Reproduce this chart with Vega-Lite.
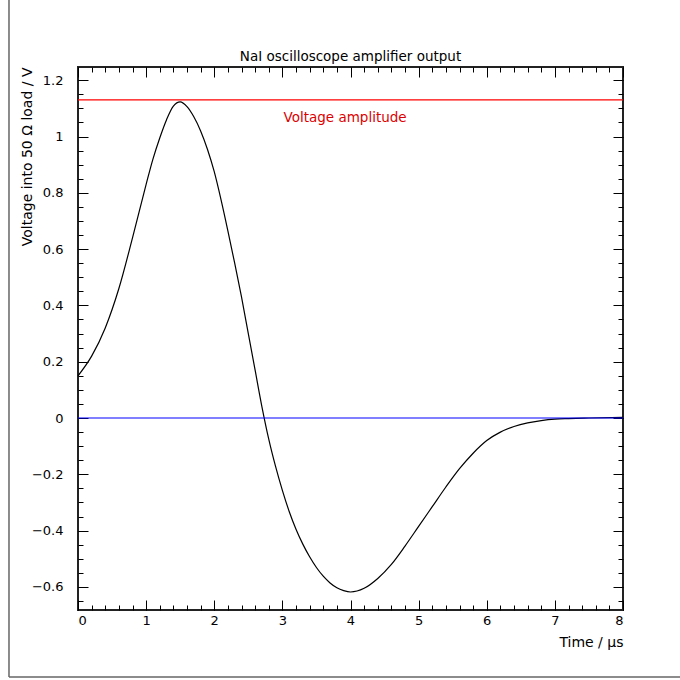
{
  "$schema": "https://vega.github.io/schema/vega-lite/v6.json",
  "width": 545,
  "height": 543,
  "autosize": "none",
  "padding": {"left": 78, "top": 67, "right": 57, "bottom": 70},
  "background": "white",
  "config": {
    "font": "DejaVu Sans",
    "view": {"stroke": "#222", "strokeWidth": 2},
    "axis": {
      "grid": false,
      "domain": false,
      "tickColor": "#000",
      "tickWidth": 1,
      "labelColor": "#000",
      "labelFont": "DejaVu Sans",
      "labelFontSize": 13,
      "titleColor": "#000",
      "titleFont": "DejaVu Sans",
      "titleFontSize": 14,
      "titleFontWeight": "normal",
      "format": "~g"
    }
  },
  "title": {"text": "NaI oscilloscope amplifier output", "font": "DejaVu Sans", "fontSize": 13.5, "fontWeight": "normal", "color": "#000", "offset": -64, "anchor": "middle"},
  "datasets": {
    "pulse": [
      {"t": 0, "v": 0.15}, {"t": 0.2, "v": 0.22}, {"t": 0.4, "v": 0.32}, {"t": 0.6, "v": 0.46},
      {"t": 0.8, "v": 0.64}, {"t": 1.0, "v": 0.83}, {"t": 1.1, "v": 0.92}, {"t": 1.2, "v": 0.995},
      {"t": 1.3, "v": 1.06}, {"t": 1.4, "v": 1.108}, {"t": 1.5, "v": 1.123}, {"t": 1.6, "v": 1.106},
      {"t": 1.7, "v": 1.07}, {"t": 1.8, "v": 1.02}, {"t": 1.9, "v": 0.955}, {"t": 2.0, "v": 0.875},
      {"t": 2.1, "v": 0.775}, {"t": 2.2, "v": 0.665}, {"t": 2.3, "v": 0.55}, {"t": 2.4, "v": 0.43},
      {"t": 2.5, "v": 0.3}, {"t": 2.6, "v": 0.17}, {"t": 2.7, "v": 0.04}, {"t": 2.8, "v": -0.075},
      {"t": 2.9, "v": -0.172}, {"t": 3.0, "v": -0.257}, {"t": 3.1, "v": -0.332}, {"t": 3.2, "v": -0.395},
      {"t": 3.3, "v": -0.448}, {"t": 3.4, "v": -0.493}, {"t": 3.5, "v": -0.531}, {"t": 3.6, "v": -0.562},
      {"t": 3.7, "v": -0.586}, {"t": 3.8, "v": -0.603}, {"t": 3.9, "v": -0.613}, {"t": 4.0, "v": -0.618},
      {"t": 4.2, "v": -0.605}, {"t": 4.4, "v": -0.57}, {"t": 4.6, "v": -0.52}, {"t": 4.8, "v": -0.455},
      {"t": 5.0, "v": -0.385}, {"t": 5.2, "v": -0.315}, {"t": 5.4, "v": -0.245}, {"t": 5.6, "v": -0.18},
      {"t": 5.8, "v": -0.125}, {"t": 6.0, "v": -0.08}, {"t": 6.2, "v": -0.05}, {"t": 6.4, "v": -0.03},
      {"t": 6.6, "v": -0.017}, {"t": 6.8, "v": -0.009}, {"t": 7.0, "v": -0.004}, {"t": 7.2, "v": -0.002},
      {"t": 7.5, "v": 0.0}, {"t": 8.0, "v": 0.002}
    ],
    "frame": [
      {"x1": -1.013, "x2": -1.013, "y1": 1.485, "y2": -0.92},
      {"x1": -1.013, "x2": 8.84, "y1": -0.92, "y2": -0.92}
    ],
    "one": [{"k": 1}]
  },
  "layer": [
    {
      "data": {"name": "pulse"},
      "mark": {"type": "line", "color": "#000", "strokeWidth": 1.2, "interpolate": "monotone"},
      "encoding": {
        "x": {
          "field": "t", "type": "quantitative",
          "scale": {"domain": [0, 8], "nice": false, "zero": false},
          "axis": {"orient": "bottom", "values": [0, 1, 2, 3, 4, 5, 6, 7, 8], "tickSize": -10, "labelPadding": 14,
                   "title": "Time / μs", "titleAnchor": "end", "titleAlign": "right", "titlePadding": 8}
        },
        "y": {
          "field": "v", "type": "quantitative",
          "scale": {"domain": [-0.682, 1.247], "nice": false, "zero": false},
          "axis": {"orient": "left", "values": [-0.6, -0.4, -0.2, 0, 0.2, 0.4, 0.6, 0.8, 1, 1.2], "tickSize": -10, "labelPadding": 25,
                   "title": "Voltage into 50 Ω load / V", "titleAnchor": "end", "titlePadding": -3}
        }
      }
    },
    {
      "data": {"name": "one"},
      "mark": {"type": "rule", "color": "#ff0000", "strokeWidth": 1.2},
      "encoding": {
        "x": {"datum": 0, "type": "quantitative",
              "axis": {"orient": "bottom", "values": [0,0.2,0.4,0.6,0.8,1,1.2,1.4,1.6,1.8,2,2.2,2.4,2.6,2.8,3,3.2,3.4,3.6,3.8,4,4.2,4.4,4.6,4.8,5,5.2,5.4,5.6,5.8,6,6.2,6.4,6.6,6.8,7,7.2,7.4,7.6,7.8,8],
                       "tickSize": -5, "labels": false, "title": null}},
        "x2": {"datum": 8},
        "y": {"datum": 1.13, "type": "quantitative",
              "axis": {"orient": "left", "values": [-0.65,-0.6,-0.55,-0.5,-0.45,-0.4,-0.35,-0.3,-0.25,-0.2,-0.15,-0.1,-0.05,0,0.05,0.1,0.15,0.2,0.25,0.3,0.35,0.4,0.45,0.5,0.55,0.6,0.65,0.7,0.75,0.8,0.85,0.9,0.95,1,1.05,1.1,1.15,1.2],
                       "tickSize": -5, "labels": false, "title": null}}
      }
    },
    {
      "data": {"name": "one"},
      "mark": {"type": "rule", "color": "#0000ff", "strokeWidth": 1.2},
      "encoding": {
        "x": {"datum": 0, "type": "quantitative",
              "axis": {"orient": "top", "values": [0, 1, 2, 3, 4, 5, 6, 7, 8], "tickSize": -10, "labels": false, "title": null}},
        "x2": {"datum": 8},
        "y": {"datum": 0, "type": "quantitative",
              "axis": {"orient": "right", "values": [-0.6, -0.4, -0.2, 0, 0.2, 0.4, 0.6, 0.8, 1, 1.2], "tickSize": -10, "labels": false, "title": null}}
      }
    },
    {
      "data": {"name": "one"},
      "mark": {"type": "text", "text": "Voltage amplitude", "color": "#dd0000", "font": "DejaVu Sans", "fontSize": 13.5, "align": "center", "baseline": "middle"},
      "encoding": {
        "x": {"datum": 3.92, "type": "quantitative",
              "axis": {"orient": "top", "values": [0,0.2,0.4,0.6,0.8,1,1.2,1.4,1.6,1.8,2,2.2,2.4,2.6,2.8,3,3.2,3.4,3.6,3.8,4,4.2,4.4,4.6,4.8,5,5.2,5.4,5.6,5.8,6,6.2,6.4,6.6,6.8,7,7.2,7.4,7.6,7.8,8],
                       "tickSize": -5, "labels": false, "title": null}},
        "y": {"datum": 1.066, "type": "quantitative",
              "axis": {"orient": "right", "values": [-0.65,-0.6,-0.55,-0.5,-0.45,-0.4,-0.35,-0.3,-0.25,-0.2,-0.15,-0.1,-0.05,0,0.05,0.1,0.15,0.2,0.25,0.3,0.35,0.4,0.45,0.5,0.55,0.6,0.65,0.7,0.75,0.8,0.85,0.9,0.95,1,1.05,1.1,1.15,1.2],
                       "tickSize": -5, "labels": false, "title": null}}
      }
    },
    {
      "data": {"name": "frame"},
      "mark": {"type": "rule", "color": "#666", "strokeWidth": 1.5, "clip": false},
      "encoding": {
        "x": {"field": "x1", "type": "quantitative", "axis": null},
        "x2": {"field": "x2"},
        "y": {"field": "y1", "type": "quantitative", "axis": null},
        "y2": {"field": "y2"}
      }
    }
  ],
  "resolve": {"axis": {"x": "independent", "y": "independent"}}
}
